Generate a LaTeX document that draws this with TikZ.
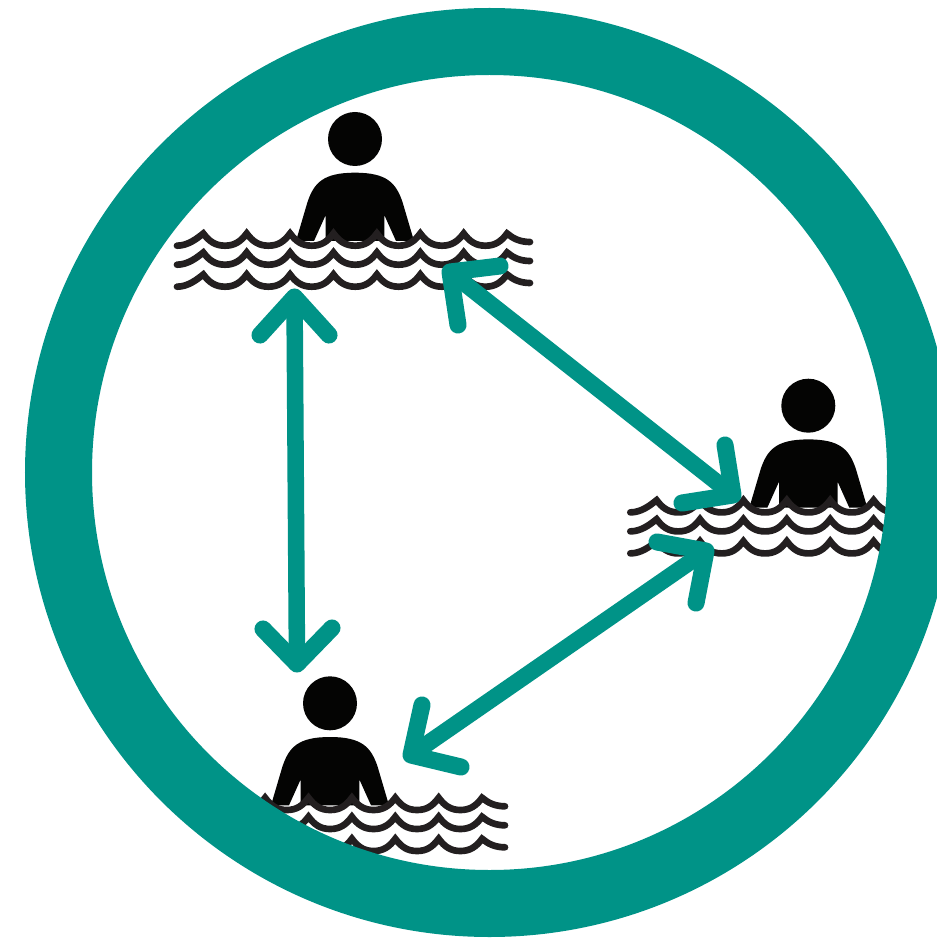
\documentclass[tikz,border=0pt]{standalone}
\definecolor{ringteal}{HTML}{009387}
\definecolor{waveink}{HTML}{231F20}
\definecolor{bodyink}{HTML}{040403}
\tikzset{
  ring/.style={draw=ringteal,line width=50.25pt},
  link/.style={draw=ringteal,line width=12.4pt},
  barb/.style={draw=ringteal,line width=12.8pt,line cap=round,line join=round},
  wave/.style={draw=waveink,line width=5pt,line cap=round,miter limit=10},
  swimmer/.pic={
    \fill[bodyink] (0,0) circle (27);
    \fill[bodyink] (-59,102) -- (-47.5,63) .. controls (-41,44) and (-32,33.7) .. (0,33.7)
      .. controls (32,33.7) and (41,44) .. (47.5,63) -- (59,102) -- (41,102) -- (29.3,76)
      -- (29.3,102) -- (-29.3,102) -- (-29.3,76) -- (-41,102) -- cycle;
    \foreach \c/\s in {94.5/106.7,113.5/125.7,135.5/147.7}{
      \draw[wave] (-178,\s) .. controls (-167,\s) and (-158,\c+5) .. (-151.7,\c)
        \foreach \i [evaluate=\i as \x using -151.7+43.4*\i] in {0,...,6}{
          .. controls (\x+6,\c+8) and (\x+12,\s) .. (\x+21.7,\s)
          .. controls (\x+31.4,\s) and (\x+37.4,\c+8) .. (\x+43.4,\c)
        }
        .. controls (\c*0+158,\c+5) and (\c*0+165,\c+8.5) .. (175,\c+8.5);
    }
  }
}
\begin{document}
\begin{tikzpicture}[x=0.75pt,y=-0.75pt]
\useasboundingbox (0,0) rectangle (937,948);
\clip (0,0) rectangle (937,948);
\coordinate (centre) at (489.5,472.5);
\coordinate (s1) at (355,139);
\coordinate (s2) at (808.3,405.7);
\coordinate (s3) at (330,703.3);
\begin{scope}
  \clip (centre) circle (405);
  \pic at (s1) {swimmer};
  \pic at (s2) {swimmer};
  \pic at (s3) {swimmer};
\end{scope}
\draw[ring] (centre) circle (431);
% left arrow
\coordinate (a1) at (294.5,297);
\coordinate (a2) at (297,664);
\draw[link] (a1) -- (a2);
\draw[barb] (260,335) -- (a1) -- (329,335);
\draw[barb] (263,629) -- (a2) -- (332,628);
% upper right arrow
\coordinate (b1) at (450,272);
\coordinate (b2) at (733,495);
\draw[link] (b1) -- (b2);
\draw[barb] (500,266) -- (b1) -- (458,325);
\draw[barb] (725,445) -- (b2) -- (682,503);
% lower right arrow
\coordinate (c1) at (706,551);
\coordinate (c2) at (411,755);
\draw[link] (c1) -- (c2);
\draw[barb] (657,542) -- (c1) -- (696,603);
\draw[barb] (422,705) -- (c2) -- (461,767);
\end{tikzpicture}
\end{document}
